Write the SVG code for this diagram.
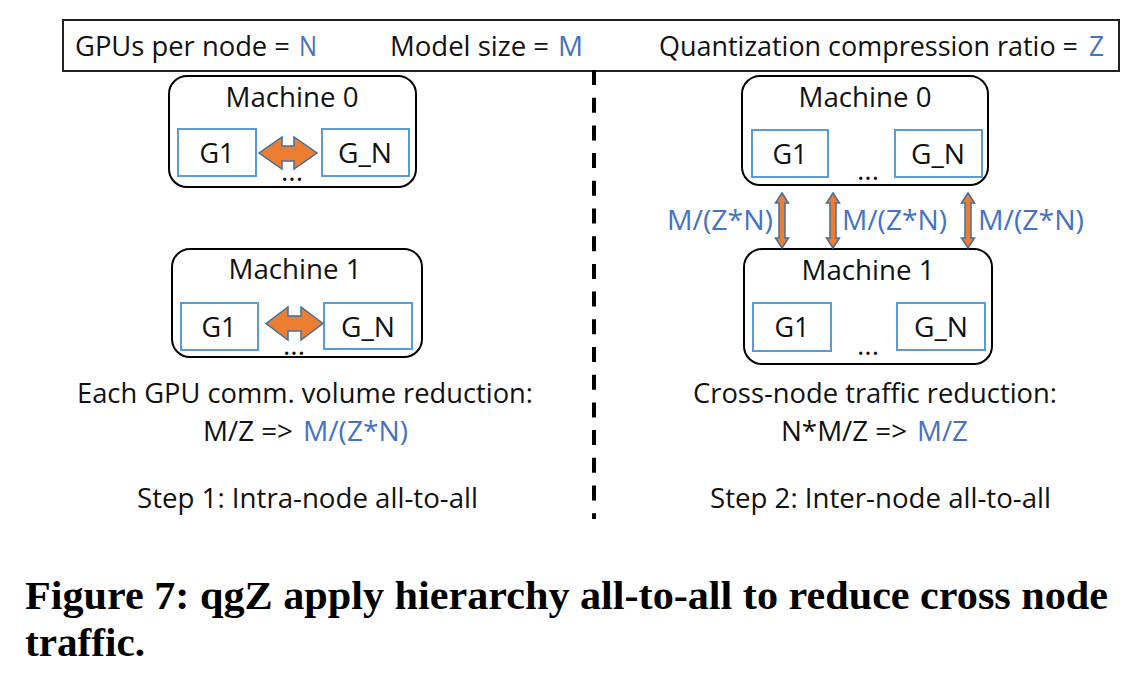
<svg xmlns="http://www.w3.org/2000/svg" width="1131" height="676" viewBox="0 0 1131 676">
<style>
text{font-family:"Open Sans","Liberation Sans",sans-serif;font-size:28px;fill:#111}
.c{text-anchor:middle}
.b{fill:#4472C4}
.mach{fill:#fff;stroke:#000;stroke-width:2}
.gpu{fill:#fff;stroke:#5B9BD5;stroke-width:2}
.arr{fill:#ED7D31;stroke:#41719C;stroke-width:1.5;stroke-linejoin:miter}
.cap{font-family:"Liberation Serif",serif;font-weight:bold;font-size:40px;fill:#000}
</style>
<rect width="1131" height="676" fill="#fff"/>
<g id="legend">
<rect x="63" y="20" width="1056" height="51" fill="#fff" stroke="#222" stroke-width="2"/>
<text x="75" y="56" textLength="215" lengthAdjust="spacingAndGlyphs">GPUs per node =</text>
<text class="b" x="299" y="56" textLength="18" lengthAdjust="spacingAndGlyphs">N</text>
<text x="390" y="56" textLength="159" lengthAdjust="spacingAndGlyphs">Model size =</text>
<text class="b" x="558" y="56" textLength="25" lengthAdjust="spacingAndGlyphs">M</text>
<text x="1078" y="56" font-size="25" text-anchor="end" textLength="419" lengthAdjust="spacingAndGlyphs">Quantization compression ratio =</text>
<text class="b" x="1104" y="56" text-anchor="end" textLength="15" lengthAdjust="spacingAndGlyphs">Z</text>
</g>
<line id="divider" x1="594" y1="70" x2="594" y2="519" stroke="#000" stroke-width="4" stroke-dasharray="15 12.7"/>
<g id="left-machine0">
<rect class="mach" x="169" y="76" width="247" height="111" rx="18"/>
<text class="c" x="292" y="107" textLength="133" lengthAdjust="spacingAndGlyphs">Machine 0</text>
<rect class="gpu" x="178" y="129" width="78" height="47"/>
<text class="c" x="217" y="163" textLength="35" lengthAdjust="spacingAndGlyphs">G1</text>
<rect class="gpu" x="322" y="129" width="87" height="47"/>
<text class="c" x="365" y="163" textLength="54" lengthAdjust="spacingAndGlyphs">G_N</text>
<text class="c" x="292" y="181">...</text>
</g>
<g id="left-machine1">
<rect class="mach" x="172" y="249" width="250" height="108" rx="18"/>
<text class="c" x="295" y="279" textLength="133" lengthAdjust="spacingAndGlyphs">Machine 1</text>
<rect class="gpu" x="181" y="303" width="77" height="47"/>
<text class="c" x="219" y="337" textLength="35" lengthAdjust="spacingAndGlyphs">G1</text>
<rect class="gpu" x="324" y="303" width="88" height="46"/>
<text class="c" x="368" y="337" textLength="54" lengthAdjust="spacingAndGlyphs">G_N</text>
<text class="c" x="294" y="355">...</text>
</g>
<g id="right-machine0">
<rect class="mach" x="742" y="76" width="246" height="109" rx="18"/>
<text class="c" x="865" y="107" textLength="133" lengthAdjust="spacingAndGlyphs">Machine 0</text>
<rect class="gpu" x="752" y="130" width="76" height="47"/>
<text class="c" x="790" y="164" textLength="35" lengthAdjust="spacingAndGlyphs">G1</text>
<rect class="gpu" x="895" y="130" width="87" height="47"/>
<text class="c" x="938" y="164" textLength="54" lengthAdjust="spacingAndGlyphs">G_N</text>
<text class="c" x="868" y="180">...</text>
</g>
<g id="right-machine1">
<rect class="mach" x="744" y="249" width="248" height="115" rx="18"/>
<text class="c" x="868" y="280" textLength="133" lengthAdjust="spacingAndGlyphs">Machine 1</text>
<rect class="gpu" x="753" y="303" width="78" height="48"/>
<text class="c" x="792" y="337" textLength="35" lengthAdjust="spacingAndGlyphs">G1</text>
<rect class="gpu" x="897" y="303" width="88" height="47"/>
<text class="c" x="941" y="337" textLength="54" lengthAdjust="spacingAndGlyphs">G_N</text>
<text class="c" x="868" y="355">...</text>
</g>
<g id="connectors">
<path class="arr" d="M259,153 L282,137 L282,146 L294,146 L294,137 L317,153 L294,169 L294,161 L282,161 L282,169 Z"/>
<path class="arr" d="M266,323.5 L288,307 L288,316 L301,316 L301,307 L323,323.5 L301,340 L301,331 L288,331 L288,340 Z"/>
<path class="arr" d="M782,193 L788.5,203 L785,203 L785,238 L788.5,238 L782,248 L775.5,238 L779,238 L779,203 L775.5,203 Z"/>
<path class="arr" d="M833,193 L839.5,203 L836,203 L836,238 L839.5,238 L833,248 L826.5,238 L830,238 L830,203 L826.5,203 Z"/>
<path class="arr" d="M968,193 L974.5,203 L971,203 L971,238 L974.5,238 L968,248 L961.5,238 L965,238 L965,203 L961.5,203 Z"/>
</g>
<g id="link-labels">
<text class="b" x="667" y="230" textLength="106" lengthAdjust="spacingAndGlyphs">M/(Z*N)</text>
<text class="b" x="842" y="230" textLength="105" lengthAdjust="spacingAndGlyphs">M/(Z*N)</text>
<text class="b" x="978" y="230" textLength="106" lengthAdjust="spacingAndGlyphs">M/(Z*N)</text>
</g>
<g id="left-notes">
<text x="77" y="403" textLength="456" lengthAdjust="spacingAndGlyphs">Each GPU comm. volume reduction:</text>
<text x="203" y="441" textLength="90" lengthAdjust="spacingAndGlyphs">M/Z =&gt;</text>
<text class="b" x="303" y="441" textLength="105" lengthAdjust="spacingAndGlyphs">M/(Z*N)</text>
<text x="137" y="508" textLength="341" lengthAdjust="spacingAndGlyphs">Step 1: Intra-node all-to-all</text>
</g>
<g id="right-notes">
<text x="693" y="403" textLength="364" lengthAdjust="spacingAndGlyphs">Cross-node traffic reduction:</text>
<text x="781" y="441" textLength="126" lengthAdjust="spacingAndGlyphs">N*M/Z =&gt;</text>
<text class="b" x="917" y="441" textLength="51" lengthAdjust="spacingAndGlyphs">M/Z</text>
<text x="710" y="508" textLength="341" lengthAdjust="spacingAndGlyphs">Step 2: Inter-node all-to-all</text>
</g>
<g id="caption">
<text class="cap" x="25" y="609" textLength="1083" lengthAdjust="spacingAndGlyphs">Figure 7:  qgZ apply hierarchy all-to-all to reduce cross node</text>
<text class="cap" x="25" y="656" textLength="120" lengthAdjust="spacingAndGlyphs">traffic.</text>
</g>
</svg>
